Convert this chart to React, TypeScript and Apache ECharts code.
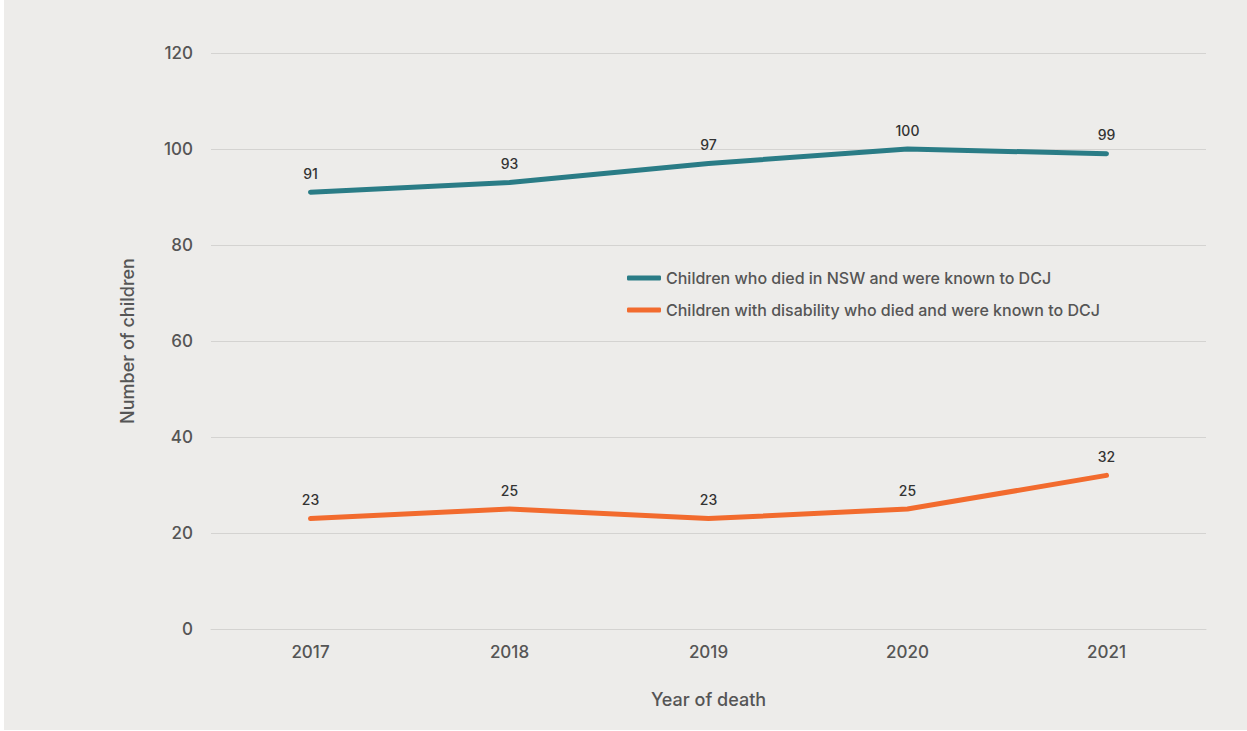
import React, { useEffect, useRef } from "react";
import * as echarts from "echarts";

const years = ["2017", "2018", "2019", "2020", "2021"];
const knownToDCJ = [91, 93, 97, 100, 99];
const disabilityKnownToDCJ = [23, 25, 23, 25, 32];
const seriesNames = [
  "Children who died in NSW and were known to DCJ",
  "Children with disability who died and were known to DCJ",
];
const yTicks = { min: 0, max: 120, interval: 20 };

const FONT = "Inter, 'Noto Sans', sans-serif";
const TEXT = "#555555";

export default function App() {
  const ref = useRef<HTMLDivElement>(null);
  useEffect(() => {
    if (!ref.current) return;
    const chart = echarts.init(ref.current, undefined, { renderer: "svg" });
    const label = {
      show: true,
      position: "top",
      distance: 12,
      fontFamily: FONT,
      fontSize: 14,
      fontWeight: 500,
      color: "#333333",
    };
    chart.setOption({
      animation: false,
      backgroundColor: "#ffffff",
      graphic: [
        {
          type: "rect",
          z: -10,
          shape: { x: 4, y: 0, width: 1243, height: 730 },
          style: { fill: "#EDECEA" },
          silent: true,
        },
      ],
      textStyle: { fontFamily: FONT, color: TEXT },
      grid: { left: 211, right: 41, top: 53, bottom: 102 },
      legend: {
        orient: "vertical",
        left: 622,
        top: 265,
        itemGap: 16,
        itemWidth: 34,
        itemHeight: 5,
        icon: "roundRect",
        textStyle: { fontFamily: FONT, fontSize: 16, fontWeight: 500, color: TEXT },
        data: seriesNames,
      },
      xAxis: {
        type: "category",
        data: years,
        boundaryGap: true,
        axisLine: { show: true, lineStyle: { color: "#D4D3D1", width: 1 } },
        axisTick: { show: false },
        axisLabel: { fontFamily: FONT, fontSize: 17, fontWeight: 500, color: TEXT, margin: 14 },
        name: "Year of death",
        nameLocation: "middle",
        nameGap: 61,
        nameTextStyle: { fontFamily: FONT, fontSize: 18, fontWeight: 500, color: TEXT },
      },
      yAxis: {
        type: "value",
        min: yTicks.min,
        max: yTicks.max,
        interval: yTicks.interval,
        axisLine: { show: false },
        axisTick: { show: false },
        splitLine: { lineStyle: { color: "#D4D3D1", width: 1 } },
        axisLabel: { fontFamily: FONT, fontSize: 17, fontWeight: 500, color: TEXT, margin: 18 },
        name: "Number of children",
        nameLocation: "middle",
        nameGap: 75,
        nameRotate: 90,
        nameTextStyle: { fontFamily: FONT, fontSize: 18, fontWeight: 500, color: TEXT },
      },
      series: [
        {
          name: seriesNames[0],
          type: "line",
          data: knownToDCJ,
          showSymbol: true,
          symbol: "circle",
          symbolSize: 0,
          lineStyle: { color: "#2A7C86", width: 5, cap: "round" },
          itemStyle: { color: "#2A7C86" },
          label,
        },
        {
          name: seriesNames[1],
          type: "line",
          data: disabilityKnownToDCJ,
          showSymbol: true,
          symbol: "circle",
          symbolSize: 0,
          lineStyle: { color: "#F26B2E", width: 5, cap: "round" },
          itemStyle: { color: "#F26B2E" },
          label,
        },
      ],
    });
    return () => chart.dispose();
  }, []);
  return (
    <div
      ref={ref}
      style={{ position: "fixed", left: 0, top: 0, width: 1247, height: 731 }}
    />
  );
}
